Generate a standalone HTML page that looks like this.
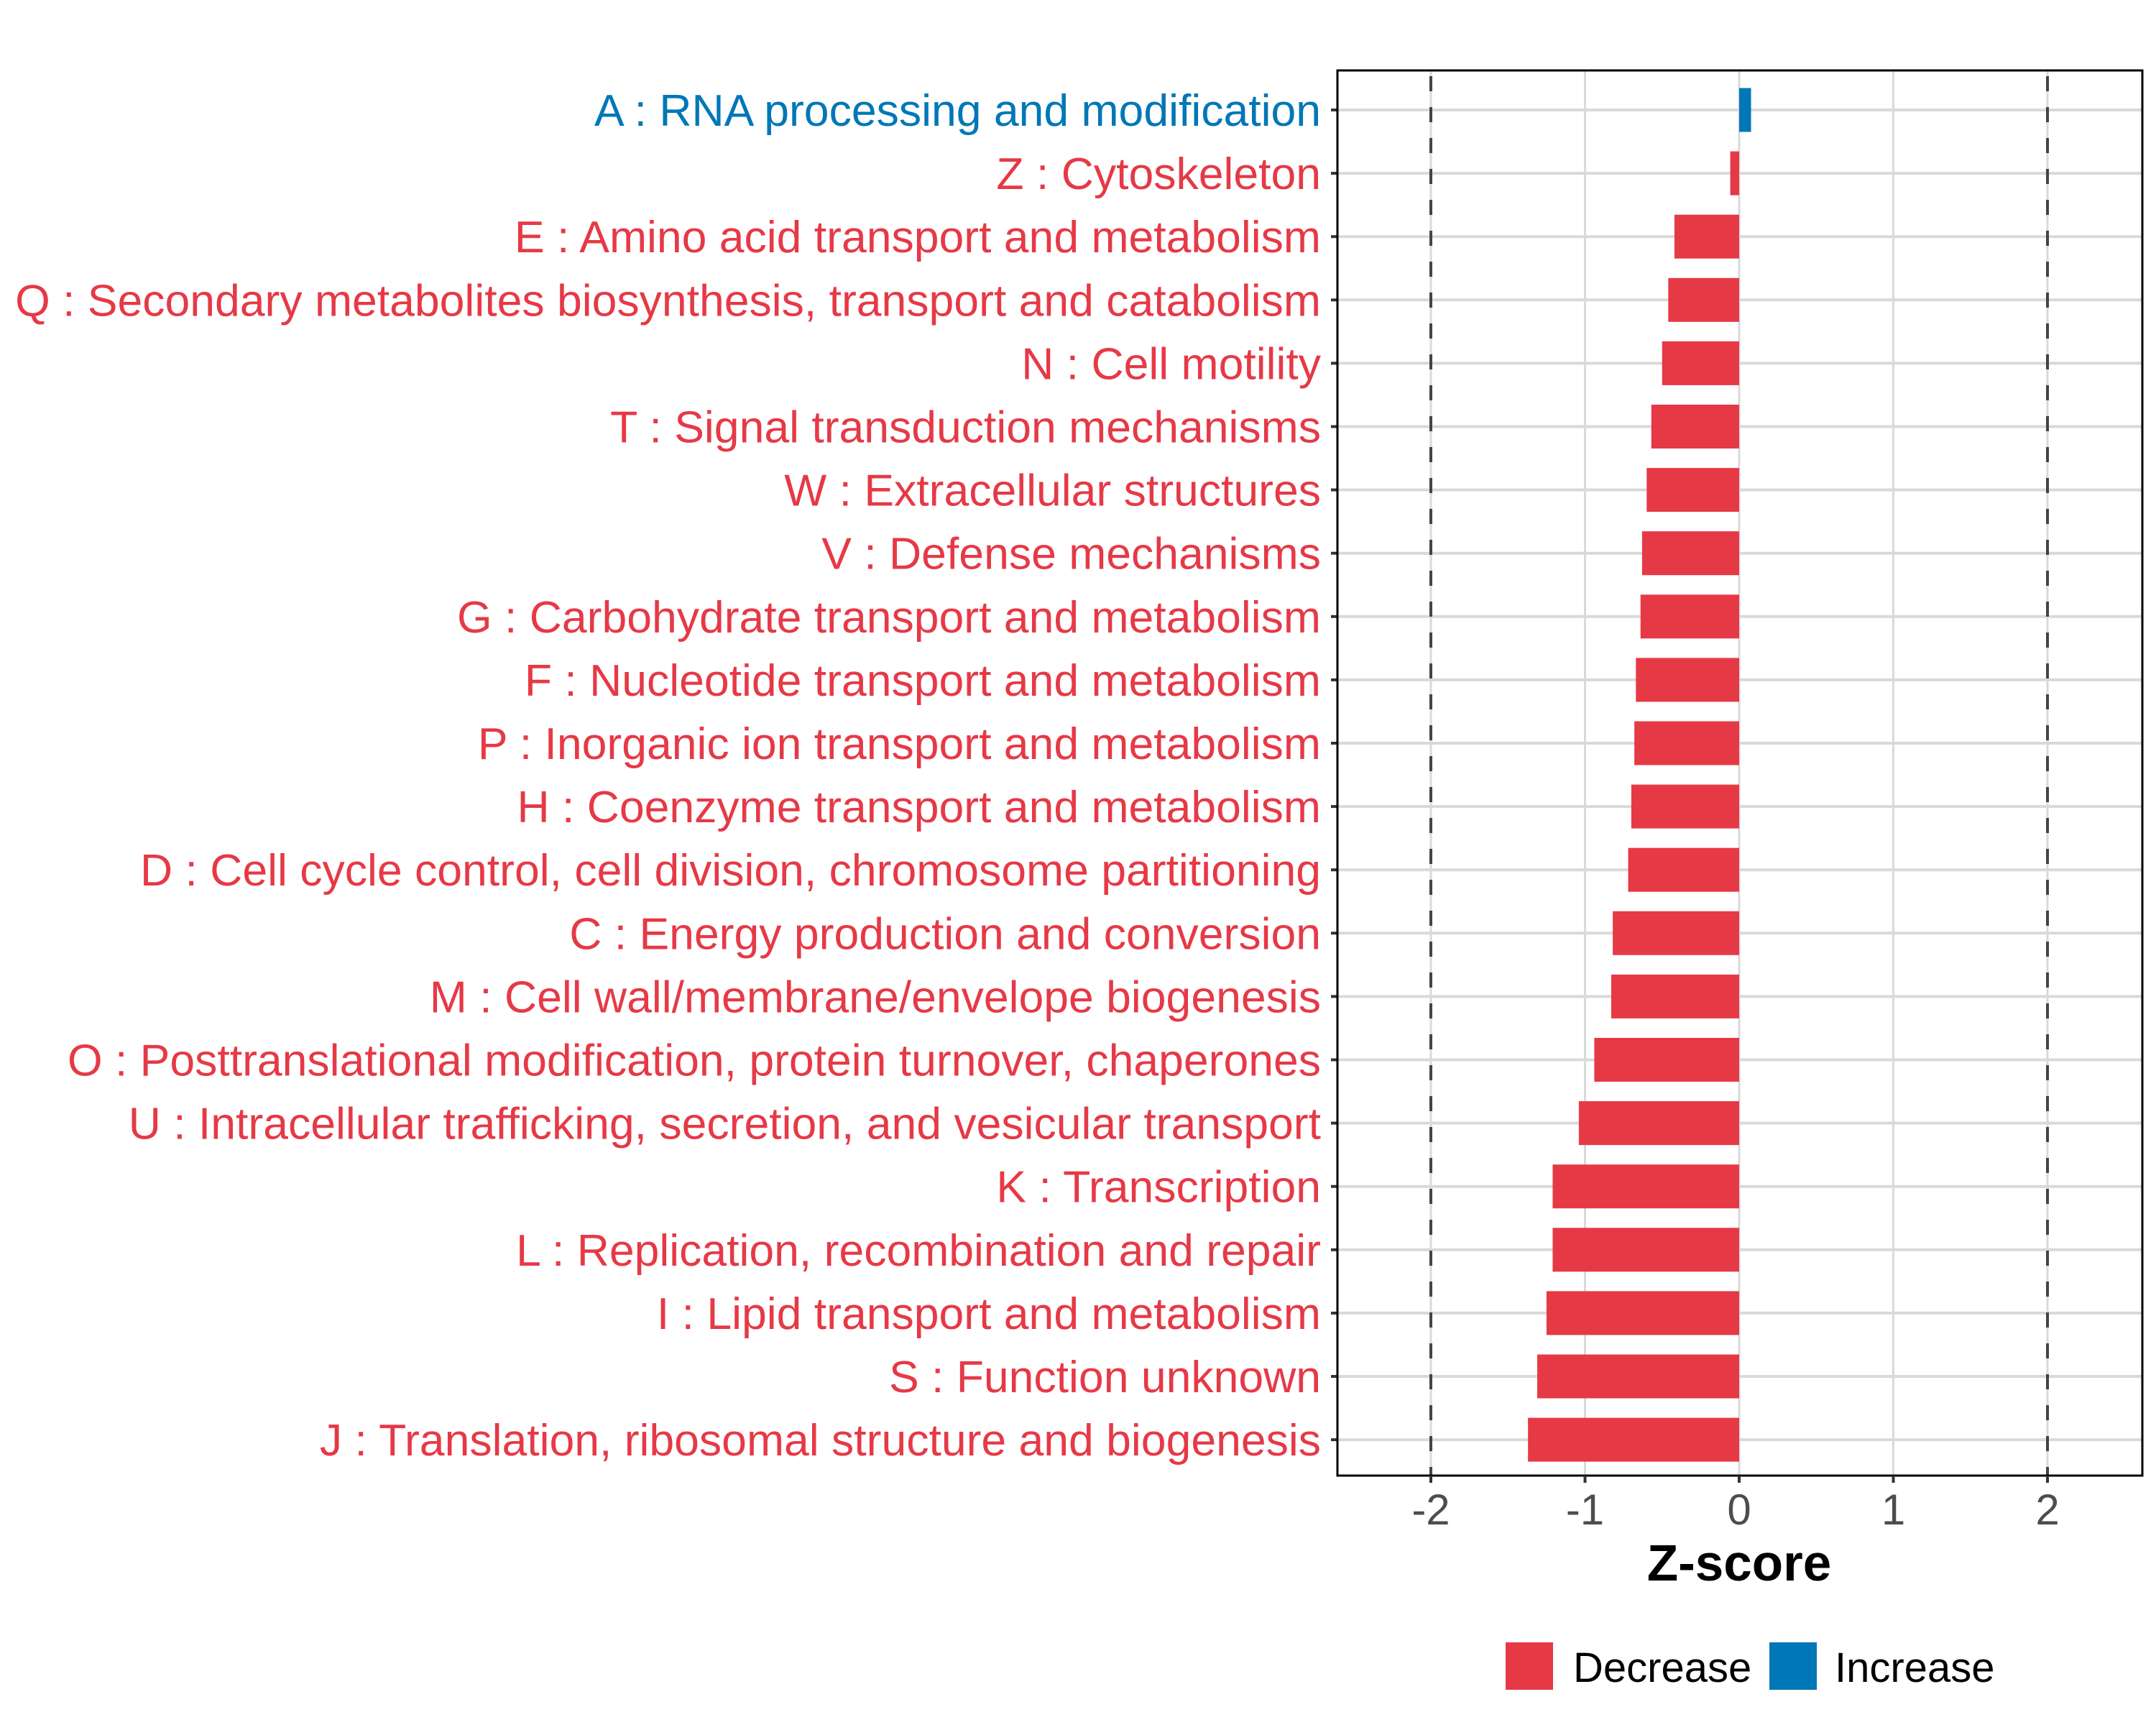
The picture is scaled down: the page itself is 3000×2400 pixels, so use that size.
<!DOCTYPE html>
<html><head><meta charset="utf-8"><style>
html,body{margin:0;padding:0;background:#fff;}
svg{display:block;font-family:"Liberation Sans",sans-serif;}
</style></head><body>
<svg id="chart" width="3000" height="2400" viewBox="0 0 3000 2400" xmlns="http://www.w3.org/2000/svg">
<rect width="3000" height="2400" fill="#fff"/>
<g id="grid"></g>
<g id="bars"></g>
<g id="labels"></g>
<g id="axis"></g>
</svg>
<script>
const categories = ["A : RNA processing and modification","Z : Cytoskeleton","E : Amino acid transport and metabolism","Q : Secondary metabolites biosynthesis, transport and catabolism","N : Cell motility","T : Signal transduction mechanisms","W : Extracellular structures","V : Defense mechanisms","G : Carbohydrate transport and metabolism","F : Nucleotide transport and metabolism","P : Inorganic ion transport and metabolism","H : Coenzyme transport and metabolism","D : Cell cycle control, cell division, chromosome partitioning","C : Energy production and conversion","M : Cell wall/membrane/envelope biogenesis","O : Posttranslational modification, protein turnover, chaperones","U : Intracellular trafficking, secretion, and vesicular transport","K : Transcription","L : Replication, recombination and repair","I : Lipid transport and metabolism","S : Function unknown","J : Translation, ribosomal structure and biogenesis"];
const zscores = [0.077,-0.058,-0.42,-0.46,-0.50,-0.57,-0.60,-0.63,-0.64,-0.67,-0.68,-0.70,-0.72,-0.82,-0.83,-0.94,-1.04,-1.21,-1.21,-1.25,-1.31,-1.37];
const xTicks = [-2,-1,0,1,2];
const xTickLabels = ["-2","-1","0","1","2"];
const thresholds = [-2,2];

const NS="http://www.w3.org/2000/svg";
const L=1861,R=2981,T=98,B=2053;
const x0=2420, ppu=214.5;
function X(v){return x0+v*ppu;}
const rowTop=153, rowStep=88.1;
function Y(i){return rowTop+i*rowStep;}
const RED="#E63946",BLUE="#0077B6";
function mk(tag,attrs,parent){const e=document.createElementNS(NS,tag);for(const k in attrs)e.setAttribute(k,attrs[k]);parent.appendChild(e);return e;}
const grid=document.getElementById('grid'),bars=document.getElementById('bars'),labels=document.getElementById('labels'),axis=document.getElementById('axis');
xTicks.forEach(v=>{const g=mk('line',{x1:X(v),x2:X(v),y1:T,y2:B,stroke:'#d9d9d9','stroke-width':3},grid);

});
categories.forEach((c,i)=>{const g=mk('line',{x1:L,x2:R,y1:Y(i),y2:Y(i),stroke:'#d9d9d9','stroke-width':4},grid);

});
thresholds.forEach(v=>{const d=mk('line',{x1:X(v),x2:X(v),y1:T,y2:B,stroke:'#444','stroke-width':4,'stroke-dasharray':'21 22','stroke-dashoffset':'-8'},grid);

});
const bh=61;
categories.forEach((c,i)=>{const v=zscores[i];const col=v>=0?BLUE:RED;
const r=mk('rect',{x:Math.min(X(0),X(v)),y:Y(i)-bh/2,width:Math.abs(X(v)-X(0)),height:bh,fill:col},bars);


const t=mk('text',{x:1838,y:Y(i)+22,'text-anchor':'end','font-size':62.5,fill:col},labels);
t.textContent=c;


const tk=mk('line',{x1:L-9,x2:L,y1:Y(i),y2:Y(i),stroke:'#333','stroke-width':4},axis);

});
const fr=mk('rect',{x:L,y:T,width:R-L,height:B-T,fill:'none',stroke:'#000','stroke-width':3},axis);


xTicks.forEach((v,i)=>{const tk=mk('line',{x1:X(v),x2:X(v),y1:B,y2:B+10,stroke:'#333','stroke-width':4},axis);


const t=mk('text',{x:X(v),y:2121,'text-anchor':'middle','font-size':60,fill:'#4d4d4d'},axis);
t.textContent=xTickLabels[i];

});
const xt=mk('text',{x:X(0),y:2199,'text-anchor':'middle','font-size':71,'font-weight':'bold',fill:'#000'},axis);
xt.textContent='Z-score';


const legend=[["Decrease",RED,2095,2189],["Increase",BLUE,2462,2553]];
legend.forEach(l=>{const k=mk('rect',{x:l[2],y:2285,width:66,height:66,fill:l[1]},axis);


const t=mk('text',{x:l[3],y:2340,'font-size':58,fill:'#000'},axis);
t.textContent=l[0];

});
</script>
</body></html>
